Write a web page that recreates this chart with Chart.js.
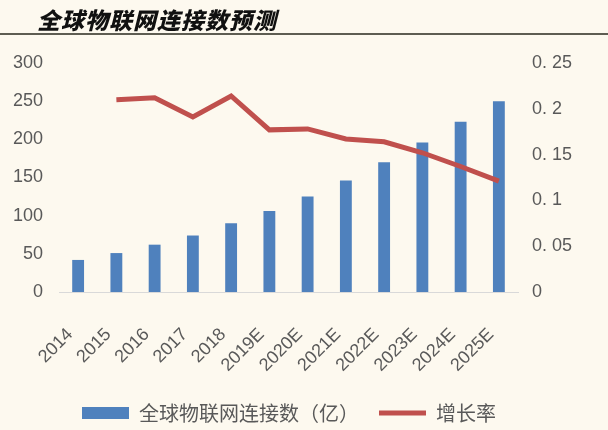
<!DOCTYPE html>
<html>
<head>
<meta charset="utf-8">
<script src="https://cdn.jsdelivr.net/npm/chart.js@4.4.0/dist/chart.umd.min.js"></script>
<style>
  html, body {
    margin: 0;
    padding: 0;
    width: 608px;
    height: 430px;
    overflow: hidden;
    background: #fdf9ef;
  }
  #chart_wrap {
    position: absolute;
    left: 0;
    top: 0;
    width: 578px;
    height: 430px;
  }
  #title {
    position: absolute;
    left: 37px;
    top: 2px;
    font-family: "Noto Sans CJK SC", sans-serif;
    font-size: 23px;
    font-weight: 900;
    font-style: italic;
    color: #111;
    letter-spacing: 1px;
  }
  #title_rule {
    position: absolute;
    left: 0;
    top: 33px;
    width: 608px;
    height: 2px;
    background: #5e5d52;
  }
</style>
</head>
<body>
<div id="chart_wrap"><canvas id="iot_chart"></canvas></div>
<div id="title">全球物联网连接数预测</div>
<div id="title_rule"></div>

<script>
// Chart data
const years = ["2014", "2015", "2016", "2017", "2018", "2019E", "2020E",
  "2021E", "2022E", "2023E", "2024E", "2025E"];
const connections = [42, 51, 62, 74, 90, 106, 125, 146, 170, 196, 223, 250];
const growthRate = [null, 0.21, 0.212, 0.191, 0.214, 0.177, 0.178, 0.167,
  0.164, 0.152, 0.137, 0.121];
const leftTicks = [0, 50, 100, 150, 200, 250, 300];
const rightTickLabels = {
  0: "0",
  0.05: "0. 05",
  0.1: "0. 1",
  0.15: "0. 15",
  0.2: "0. 2",
  0.25: "0. 25",
};

const textColor = "#595959";
const barColor = "#4f81bd";
const lineColor = "#c0504d";
const tickFont = { family: "'Liberation Sans', Arial, sans-serif", size: 18 };

const ctx = document.getElementById("iot_chart").getContext("2d");

new Chart(ctx, {
  type: "bar",
  data: {
    labels: years,
    datasets: [
      {
        type: "bar",
        label: "全球物联网连接数（亿）",
        data: connections,
        backgroundColor: barColor,
        borderWidth: 0,
        categoryPercentage: 1,
        barPercentage: 0.31,
        yAxisID: "y",
        order: 2,
      },
      {
        type: "line",
        label: "增长率",
        data: growthRate,
        borderColor: lineColor,
        backgroundColor: lineColor,
        borderWidth: 5,
        pointRadius: 0,
        tension: 0,
        yAxisID: "y1",
        order: 1,
      },
    ],
  },
  options: {
    responsive: true,
    maintainAspectRatio: false,
    animation: false,
    layout: {
      padding: { top: 63, left: 0, right: 0, bottom: -3 },
    },
    plugins: {
      tooltip: { enabled: false },
      legend: {
        display: true,
        position: "bottom",
        labels: {
          usePointStyle: true,
          pointStyleWidth: 47,
          boxHeight: 12,
          padding: 20,
          color: textColor,
          font: { family: "'Noto Sans CJK SC', sans-serif", size: 20 },
          generateLabels: (chart) =>
            chart.data.datasets.map((ds, i) => ({
              text: ds.label,
              datasetIndex: i,
              fillStyle: ds.type === "bar" ? barColor : lineColor,
              strokeStyle: ds.type === "bar" ? barColor : lineColor,
              lineWidth: ds.type === "bar" ? 0 : 5,
              pointStyle: ds.type === "bar" ? "rect" : "line",
              fontColor: textColor,
              hidden: false,
            })),
        },
      },
    },
    scales: {
      x: {
        grid: { display: false, drawTicks: false },
        border: { display: true, color: "#d9d9d9", width: 1 },
        ticks: {
          autoSkip: false,
          minRotation: 45,
          maxRotation: 45,
          padding: 32,
          labelOffset: -8,
          color: textColor,
          font: tickFont,
        },
        afterFit: (scale) => {
          // keep rotated labels from pushing the plot inwards
          scale.height = 91;
          scale.paddingLeft = 0;
          scale.paddingRight = 0;
        },
      },
      y: {
        position: "left",
        min: 0,
        max: 300,
        grid: { display: false, drawTicks: false },
        border: { display: false },
        afterBuildTicks: (scale) => {
          scale.ticks = leftTicks.map((v) => ({ value: v }));
        },
        afterFit: (scale) => {
          scale.width = 59;
        },
        ticks: {
          padding: 16,
          color: textColor,
          font: tickFont,
        },
      },
      y1: {
        position: "right",
        min: 0,
        max: 0.25,
        grid: { display: false, drawTicks: false },
        border: { display: false },
        afterBuildTicks: (scale) => {
          scale.ticks = Object.keys(rightTickLabels).map((v) => ({ value: Number(v) }));
        },
        afterFit: (scale) => {
          scale.width = 60;
        },
        ticks: {
          padding: 14,
          color: textColor,
          font: tickFont,
          callback: (value) => rightTickLabels[value] ?? "",
        },
      },
    },
  },
});
</script>
</body>
</html>
